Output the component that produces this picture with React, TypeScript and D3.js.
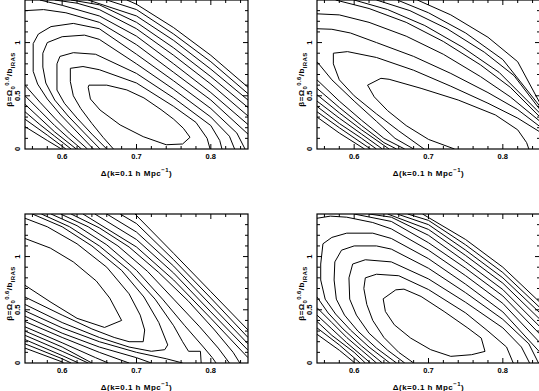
import React from "react";
import * as d3 from "d3";

const xDomain: [number, number] = [0.55, 0.85];
const yDomain: [number, number] = [0, 1.4];
const xMajor = [0.6, 0.7, 0.8];
const yMajor = [0, 0.5, 1];
const xLabels = ["0.6", "0.7", "0.8"];
const yLabels = ["0", "0.5", "1"];

type Pt = [number, number];

// Panel 1 (top-left)
const p1: Pt[][] = [
  [[0.636,0.60],[0.66,0.60],[0.687,0.555],[0.71,0.48],[0.733,0.37],[0.75,0.28],[0.763,0.195],[0.772,0.11],[0.762,0.047],[0.74,0.04],[0.709,0.116],[0.678,0.226],[0.651,0.366],[0.638,0.47],[0.635,0.58],[0.636,0.60]],
  [[0.669,0],[0.655,0.11],[0.64,0.24],[0.625,0.38],[0.615,0.5],[0.611,0.633],[0.611,0.758],[0.628,0.775],[0.65,0.745],[0.70,0.62],[0.75,0.40],[0.78,0.25],[0.795,0.1],[0.799,0]],
  [[0.660,0],[0.64,0.14],[0.62,0.29],[0.603,0.43],[0.593,0.554],[0.593,0.80],[0.597,0.87],[0.615,0.905],[0.645,0.89],[0.70,0.71],[0.75,0.48],[0.80,0.22],[0.812,0.08],[0.815,0]],
  [[0.651,0],[0.63,0.15],[0.608,0.31],[0.59,0.46],[0.578,0.62],[0.574,0.77],[0.574,0.9],[0.58,1.0],[0.60,1.055],[0.63,1.07],[0.65,1.03],[0.70,0.80],[0.75,0.56],[0.80,0.30],[0.825,0.12],[0.832,0]],
  [[0.642,0],[0.62,0.16],[0.598,0.32],[0.58,0.47],[0.567,0.61],[0.561,0.73],[0.561,0.99],[0.568,1.08],[0.585,1.15],[0.615,1.18],[0.65,1.13],[0.70,0.89],[0.75,0.64],[0.80,0.38],[0.835,0.15],[0.846,0]],
  [[0.55,1.3],[0.575,1.31],[0.605,1.28],[0.65,1.19],[0.70,0.98],[0.75,0.72],[0.80,0.46],[0.85,0.14]],
  [[0.55,0.60],[0.57,0.44],[0.59,0.29],[0.61,0.15],[0.634,0]],
  [[0.57,1.4],[0.60,1.35],[0.65,1.25],[0.70,1.06],[0.75,0.80],[0.80,0.53],[0.85,0.23]],
  [[0.55,0.50],[0.57,0.36],[0.59,0.22],[0.609,0.10],[0.626,0]],
  [[0.59,1.4],[0.62,1.37],[0.65,1.31],[0.70,1.13],[0.75,0.88],[0.80,0.61],[0.85,0.31]],
  [[0.55,0.42],[0.57,0.29],[0.59,0.16],[0.619,0]],
  [[0.612,1.4],[0.65,1.355],[0.70,1.19],[0.75,0.95],[0.80,0.68],[0.85,0.39]],
  [[0.55,0.35],[0.57,0.23],[0.59,0.12],[0.612,0]],
  [[0.635,1.4],[0.70,1.25],[0.75,1.02],[0.80,0.75],[0.85,0.46]],
  [[0.55,0.28],[0.58,0.13],[0.605,0]],
  [[0.66,1.4],[0.70,1.31],[0.75,1.08],[0.80,0.82],[0.85,0.52]],
  [[0.55,0.21],[0.58,0.08],[0.599,0]],
  [[0.687,1.4],[0.70,1.36],[0.75,1.14],[0.80,0.88],[0.85,0.58]],
];

// Panel 2 (top-right)
const p2: Pt[][] = [
  [[0.735,0],[0.70,0.09],[0.67,0.22],[0.645,0.36],[0.627,0.49],[0.618,0.60],[0.636,0.664],[0.647,0.655],[0.69,0.57],[0.74,0.46],[0.79,0.32],[0.82,0.18],[0.832,0.06],[0.835,0]],
  [[0.694,0],[0.66,0.17],[0.63,0.33],[0.60,0.5],[0.58,0.65],[0.572,0.80],[0.572,0.90],[0.591,0.915],[0.63,0.86],[0.68,0.74],[0.73,0.59],[0.78,0.43],[0.82,0.29],[0.85,0.16]],
  [[0.55,1.13],[0.57,1.125],[0.595,1.09],[0.63,1.0],[0.68,0.87],[0.73,0.71],[0.78,0.53],[0.82,0.37],[0.85,0.21]],
  [[0.55,0.82],[0.57,0.65],[0.60,0.45],[0.63,0.26],[0.655,0.1],[0.68,0]],
  [[0.55,1.27],[0.58,1.26],[0.62,1.19],[0.67,1.06],[0.72,0.89],[0.77,0.68],[0.81,0.49],[0.85,0.26]],
  [[0.55,0.65],[0.58,0.45],[0.61,0.27],[0.64,0.1],[0.668,0]],
  [[0.575,1.4],[0.62,1.32],[0.67,1.19],[0.72,1.01],[0.77,0.79],[0.81,0.58],[0.85,0.30]],
  [[0.55,0.57],[0.58,0.39],[0.61,0.22],[0.64,0.06],[0.657,0]],
  [[0.60,1.4],[0.645,1.31],[0.695,1.16],[0.745,0.96],[0.795,0.72],[0.85,0.335]],
  [[0.55,0.51],[0.58,0.34],[0.61,0.18],[0.647,0]],
  [[0.63,1.4],[0.675,1.3],[0.725,1.13],[0.775,0.91],[0.815,0.69],[0.85,0.37]],
  [[0.55,0.45],[0.58,0.29],[0.61,0.14],[0.638,0]],
  [[0.658,1.4],[0.70,1.28],[0.75,1.09],[0.80,0.84],[0.85,0.40]],
  [[0.55,0.40],[0.58,0.24],[0.61,0.1],[0.63,0]],
  [[0.685,1.4],[0.73,1.26],[0.78,1.05],[0.82,0.82],[0.85,0.43]],
  [[0.55,0.35],[0.58,0.20],[0.622,0]],
  [[0.55,0.30],[0.58,0.15],[0.614,0]],
];

// Panel 3 (bottom-left)
const p3: Pt[][] = [
  [[0.55,1.17],[0.584,1.08],[0.615,0.95],[0.646,0.77],[0.664,0.61],[0.68,0.40],[0.657,0.334],[0.62,0.42],[0.585,0.57],[0.55,0.73]],
  [[0.55,1.36],[0.58,1.28],[0.62,1.12],[0.66,0.9],[0.69,0.65],[0.705,0.45],[0.711,0.31],[0.709,0.2],[0.69,0.2],[0.67,0.24],[0.64,0.32],[0.60,0.45],[0.55,0.62]],
  [[0.56,1.4],[0.60,1.28],[0.64,1.1],[0.68,0.87],[0.71,0.62],[0.73,0.38],[0.742,0.17],[0.738,0.125],[0.72,0.11],[0.69,0.15],[0.65,0.24],[0.60,0.38],[0.55,0.55]],
  [[0.572,1.4],[0.61,1.28],[0.65,1.1],[0.69,0.87],[0.725,0.6],[0.75,0.35],[0.762,0.2],[0.77,0.11],[0.786,0.11],[0.787,0]],
  [[0.55,0.49],[0.60,0.33],[0.65,0.2],[0.70,0.1],[0.74,0.04],[0.762,0]],
  [[0.585,1.4],[0.62,1.29],[0.66,1.11],[0.70,0.87],[0.735,0.6],[0.765,0.35],[0.79,0.15],[0.802,0.05],[0.807,0]],
  [[0.55,0.44],[0.60,0.28],[0.65,0.15],[0.70,0.05],[0.72,0]],
  [[0.598,1.4],[0.635,1.28],[0.675,1.1],[0.715,0.86],[0.75,0.6],[0.785,0.34],[0.81,0.14],[0.825,0]],
  [[0.55,0.39],[0.60,0.24],[0.65,0.1],[0.69,0]],
  [[0.612,1.4],[0.65,1.27],[0.69,1.09],[0.73,0.85],[0.77,0.58],[0.805,0.31],[0.83,0.1],[0.839,0]],
  [[0.55,0.34],[0.60,0.19],[0.645,0.05],[0.662,0]],
  [[0.628,1.4],[0.70,1.09],[0.75,0.78],[0.80,0.42],[0.85,0.05]],
  [[0.55,0.30],[0.60,0.15],[0.64,0]],
  [[0.644,1.4],[0.70,1.16],[0.75,0.845],[0.80,0.48],[0.85,0.12]],
  [[0.55,0.26],[0.60,0.11],[0.635,0]],
  [[0.66,1.4],[0.70,1.23],[0.75,0.91],[0.80,0.545],[0.85,0.18]],
  [[0.55,0.22],[0.60,0.07],[0.622,0]],
  [[0.678,1.4],[0.70,1.31],[0.75,0.97],[0.80,0.61],[0.85,0.24]],
  [[0.55,0.18],[0.60,0.04],[0.612,0]],
  [[0.698,1.4],[0.75,1.03],[0.80,0.67],[0.85,0.31]],
  [[0.55,0.14],[0.60,0.01],[0.602,0]],
];

// Panel 4 (bottom-right)
const p4: Pt[][] = [
  [[0.639,0.603],[0.656,0.6875],[0.667,0.694],[0.69,0.625],[0.721,0.484],[0.753,0.328],[0.771,0.234],[0.776,0.109],[0.758,0.078],[0.73,0.0625],[0.703,0.125],[0.676,0.234],[0.654,0.359],[0.642,0.484],[0.639,0.603]],
  [[0.68,0],[0.66,0.1],[0.64,0.24],[0.625,0.4],[0.617,0.55],[0.613,0.7],[0.615,0.8],[0.63,0.834],[0.66,0.82],[0.70,0.69],[0.75,0.47],[0.78,0.3],[0.805,0.15],[0.814,0]],
  [[0.668,0],[0.645,0.12],[0.62,0.28],[0.603,0.45],[0.594,0.6],[0.593,0.8],[0.598,0.93],[0.615,0.97],[0.65,0.95],[0.70,0.79],[0.75,0.57],[0.80,0.33],[0.825,0.15],[0.836,0]],
  [[0.657,0],[0.63,0.14],[0.605,0.3],[0.587,0.45],[0.576,0.6],[0.573,0.78],[0.574,0.95],[0.583,1.06],[0.60,1.1],[0.63,1.1],[0.65,1.07],[0.70,0.89],[0.75,0.66],[0.80,0.41],[0.835,0.18],[0.848,0]],
  [[0.648,0],[0.62,0.15],[0.595,0.31],[0.575,0.46],[0.561,0.6],[0.555,0.78],[0.555,0.93],[0.558,1.12],[0.57,1.18],[0.59,1.22],[0.625,1.22],[0.65,1.17],[0.70,0.98],[0.75,0.74],[0.80,0.48],[0.85,0.10]],
  [[0.55,1.36],[0.568,1.38],[0.59,1.37],[0.625,1.32],[0.65,1.26],[0.70,1.06],[0.75,0.82],[0.80,0.56],[0.85,0.19]],
  [[0.55,0.62],[0.565,0.47],[0.585,0.32],[0.61,0.16],[0.638,0]],
  [[0.60,1.4],[0.65,1.33],[0.70,1.13],[0.75,0.89],[0.80,0.63],[0.85,0.27]],
  [[0.55,0.52],[0.57,0.38],[0.59,0.24],[0.61,0.12],[0.63,0]],
  [[0.62,1.4],[0.65,1.37],[0.70,1.20],[0.75,0.95],[0.80,0.69],[0.85,0.34]],
  [[0.55,0.45],[0.57,0.32],[0.59,0.19],[0.622,0]],
  [[0.645,1.4],[0.70,1.255],[0.75,1.01],[0.80,0.75],[0.85,0.41]],
  [[0.55,0.39],[0.57,0.26],[0.6,0.1],[0.615,0]],
  [[0.658,1.4],[0.70,1.30],[0.75,1.06],[0.80,0.80],[0.85,0.47]],
  [[0.55,0.33],[0.58,0.17],[0.608,0]],
  [[0.672,1.4],[0.70,1.34],[0.75,1.11],[0.80,0.85],[0.85,0.52]],
  [[0.55,0.27],[0.58,0.12],[0.601,0]],
  [[0.692,1.4],[0.75,1.16],[0.80,0.90],[0.85,0.57]],
];

const panels = [
  { contours: p1, left: 25, top: 0 },
  { contours: p2, left: 317, top: 0 },
  { contours: p3, left: 25, top: 214 },
  { contours: p4, left: 317, top: 214 },
];

const W = 223;
const H = 149;
const FONT = "'Liberation Sans', Arial, sans-serif";

function Panel({ contours, left, top }: { contours: Pt[][]; left: number; top: number }) {
  const x = d3.scaleLinear().domain(xDomain).range([0, W]);
  const y = d3.scaleLinear().domain(yDomain).range([H, 0]);
  const line = d3.line<Pt>().x((d) => x(d[0])).y((d) => y(d[1])).curve(d3.curveLinear);
  const xMinor = d3.range(0.56, 0.85, 0.02);
  const yMinor = d3.range(0.1, 1.4, 0.1);
  const clipId = `clip-${left}-${top}`;
  return (
    <g transform={`translate(${left},${top})`}>
      <defs>
        <clipPath id={clipId}>
          <rect x={0} y={0} width={W} height={H} />
        </clipPath>
      </defs>
      <g clipPath={`url(#${clipId})`}>
        {contours.map((c, i) => (
          <path key={i} d={line(c) ?? ""} fill="none" stroke="#000" strokeWidth={1} />
        ))}
      </g>
      <rect x={0} y={0} width={W} height={H} fill="none" stroke="#000" strokeWidth={1.2} />
      {xMinor.map((v, i) => {
        const isMajor = xMajor.some((m) => Math.abs(m - v) < 1e-6);
        const len = isMajor ? 5 : 3;
        return (
          <g key={"xm" + i}>
            <line x1={x(v)} x2={x(v)} y1={H} y2={H - len} stroke="#000" />
            <line x1={x(v)} x2={x(v)} y1={0} y2={len} stroke="#000" />
          </g>
        );
      })}
      {yMinor.map((v, i) => {
        const isMajor = yMajor.some((m) => Math.abs(m - v) < 1e-6);
        const len = isMajor ? 5 : 3;
        return (
          <g key={"ym" + i}>
            <line x1={0} x2={len} y1={y(v)} y2={y(v)} stroke="#000" />
            <line x1={W} x2={W - len} y1={y(v)} y2={y(v)} stroke="#000" />
          </g>
        );
      })}
      {xMajor.map((v, i) => (
        <text key={"xl" + i} x={x(v)} y={H + 10} textAnchor="middle" fontSize={7.5} fontWeight="bold" fontFamily={FONT}>
          {xLabels[i]}
        </text>
      ))}
      {yMajor.map((v, i) => (
        <text
          key={"yl" + i}
          transform={`translate(-5.5,${y(v)}) rotate(-90)`}
          textAnchor="middle"
          fontSize={7.5}
          fontWeight="bold"
          fontFamily={FONT}
        >
          {yLabels[i]}
        </text>
      ))}
      <text x={W / 2} y={H + 26.5} textAnchor="middle" fontSize={8} fontWeight="bold" fontFamily={FONT} letterSpacing={0.5}>
        Δ(k=0.1 h Mpc
        <tspan dy={-3.5} fontSize={6}>−1</tspan>
        <tspan dy={3.5}>)</tspan>
      </text>
      <text
        transform={`translate(-13,${H / 2 + 5}) rotate(-90)`}
        textAnchor="middle"
        fontSize={8}
        fontWeight="bold"
        fontFamily={FONT}
        letterSpacing={0.4}
      >
        β=Ω
        <tspan dy={2.5} fontSize={6}>0</tspan>
        <tspan dy={-6} fontSize={6}>0.6</tspan>
        <tspan dy={3.5}>/b</tspan>
        <tspan dy={2.5} fontSize={6}>IRAS</tspan>
      </text>
    </g>
  );
}

export default function App() {
  return (
    <svg width={539} height={391} style={{ display: "block", position: "absolute", left: 0, top: 0, background: "#fff" }}>
      <rect x={0} y={0} width={539} height={391} fill="#fff" />
      {panels.map((p, i) => (
        <Panel key={i} contours={p.contours} left={p.left} top={p.top} />
      ))}
    </svg>
  );
}
